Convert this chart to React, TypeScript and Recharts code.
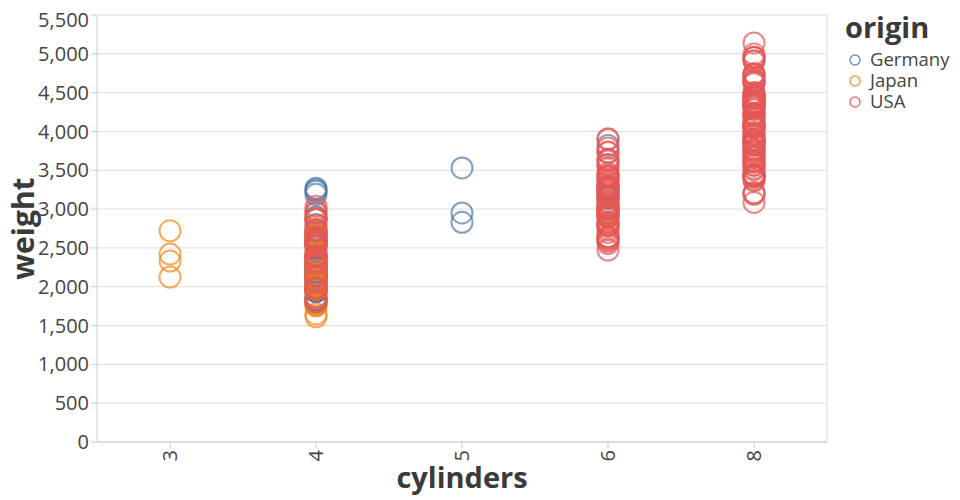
import React from "react";
import {
  ScatterChart,
  Scatter,
  XAxis,
  YAxis,
  CartesianGrid,
  ReferenceLine,
} from "recharts";

const categories = ["3", "4", "5", "6", "8"];
const origins = ["Germany", "Japan", "USA"];
const colors = ["#4c78a8", "#f58518", "#e45756"];
const yTicks = [0, 500, 1000, 1500, 2000, 2500, 3000, 3500, 4000, 4500, 5000, 5500];

// weights by origin and cylinder count
const germany4 = [1835, 2672, 2430, 2375, 2234, 1834, 1825, 2123, 1867, 2158, 2582, 2868, 1950, 2219, 2545, 3250, 1945, 2246, 1990, 2110, 2700, 2800, 2511, 1937, 2050, 2190, 2223, 2075, 1825, 2130, 1985, 3190, 3230, 2670, 1940, 2330, 2144, 2900, 3270, 2190];
const germany5 = [2830, 3530, 2950];
const germany6 = [3820, 3160, 3140, 3020];
const japan3 = [2330, 2124, 2720, 2420];
const japan4 = [2372, 2130, 1773, 1613, 1834, 2065, 1950, 2279, 1649, 2003, 2155, 1795, 2464, 2220, 1755, 2100, 2065, 1940, 2130, 2745, 2215, 2300, 1760, 2605, 1800, 2070, 2110, 1985, 2665, 1968, 2019, 2678, 2870, 2003, 2434, 2160, 2290, 2545, 2585, 1975, 2020, 1850, 1965, 1995, 2045, 2155, 2210, 2350, 2615, 2720];
const japan6 = [2807, 2815, 2910, 2930, 2990];
const usa4 = [2130, 2375, 2226, 2408, 2254, 2164, 1955, 2310, 2126, 2264, 2228, 2046, 2279, 2401, 2592, 2565, 2391, 2000, 2572, 1875, 1995, 2200, 2300, 2135, 2155, 2565, 2990, 2890, 2670, 2720, 2265, 2045, 2125, 1985, 2385, 2585, 2155, 2605, 2640, 2395, 2575, 2525, 2735, 2865, 3035, 1845, 2380, 2490, 2635, 2620, 2585, 2720, 2295, 2625, 2950, 2790, 2130, 2065, 1800, 1968, 1990, 2335, 2950, 2870, 2540];
const usa6 = [2648, 2774, 3329, 3302, 3288, 2587, 2634, 3439, 3282, 3139, 2930, 3021, 3264, 3158, 2789, 2472, 3278, 2945, 3270, 3102, 3645, 3193, 3897, 3907, 3632, 3233, 3353, 3012, 3085, 2984, 3574, 3730, 3785, 3525, 3465, 3380, 3425, 2965, 3570, 3620, 3150, 2945, 3245, 3193, 2835, 2795, 3060, 2595, 2700, 2556, 2620, 3035, 3015, 2910, 3265, 3735, 2890, 3003, 3230, 3410, 3415, 2740, 2640, 2900];
const usa8 = [3504, 3693, 3436, 3433, 3449, 4341, 4354, 4312, 4425, 3850, 3563, 3609, 3761, 3086, 4615, 4376, 4382, 4732, 4955, 4746, 5140, 4735, 4951, 4464, 4498, 4657, 4633, 4997, 4906, 4456, 4422, 3892, 4098, 4294, 4077, 4100, 3672, 3988, 4042, 3777, 4952, 4363, 4237, 4735, 4699, 4457, 4638, 4906, 3664, 4129, 4082, 4278, 4668, 4440, 4055, 3821, 3940, 4215, 4190, 3962, 4215, 4385, 4380, 4499, 3755, 3880, 4220, 4165, 4325, 4335, 3735, 3570, 3525, 3605, 3840, 3955, 3830, 4360, 4054, 3420, 3725, 3900, 3410, 3425, 3445, 3205, 4060, 3365, 3380, 3210, 3620, 3190, 4080, 3840, 3870, 3900];

type Pt = { x: number; weight: number };
const toPts = (cyl: string, ws: number[]): Pt[] =>
  ws.map((w) => ({ x: categories.indexOf(cyl), weight: w }));

const groups: { origin: number; pts: Pt[] }[] = [];
const byOrigin: [number, string, number[]][] = [
  [0, "4", germany4], [0, "5", germany5], [0, "6", germany6],
  [1, "3", japan3], [1, "4", japan4], [1, "6", japan6],
  [2, "4", usa4], [2, "6", usa6], [2, "8", usa8],
];
// interleave halves to mimic data-order drawing
for (let half = 0; half < 2; half++) {
  for (let o = 0; o < 3; o++) {
    const pts: Pt[] = [];
    byOrigin
      .filter((g) => g[0] === o)
      .forEach(([, cyl, ws]) => {
        const mid = Math.ceil(ws.length / 2);
        const part = half === 0 ? ws.slice(0, mid) : ws.slice(mid);
        pts.push(...toPts(cyl, part));
      });
    groups.push({ origin: o, pts });
  }
}

const FONT = "'Open Sans', sans-serif";
const TEXT = "#3a3a3a";
const TICK = "#444";

const makeShape = (color: string) => (props: any) => (
  <circle
    cx={props.cx}
    cy={props.cy}
    r={10.5}
    fill="none"
    stroke={color}
    strokeWidth={2}
    strokeOpacity={0.7}
  />
);

const XTick = (props: any) => {
  const { x, y, payload } = props;
  return (
    <g transform={`translate(${x},${y})`}>
      <text
        transform="rotate(-90)"
        textAnchor="end"
        dy="0.35em"
        fontSize={20}
        fontFamily={FONT}
        fill={TICK}
      >
        {categories[payload.value]}
      </text>
    </g>
  );
};

const LegendBox = () => (
  <svg width={130} height={110} style={{ position: "absolute", left: 822, top: 0 }}>
    <text x={15} y={30} fontSize={29} fontWeight="bold" fontFamily={FONT} fill={TEXT}>
      origin
    </text>
    {origins.map((o, i) => (
      <g key={o}>
        <circle cx={25} cy={52 + i * 21} r={5} fill="none" stroke={colors[i]} strokeWidth={1.5} strokeOpacity={0.8} />
        <text x={40} y={52 + i * 21} dy="0.35em" fontSize={18.5} fontFamily={FONT} fill={TICK}>
          {o}
        </text>
      </g>
    ))}
  </svg>
);

export default function App() {
  return (
    <div style={{ position: "relative", width: 952, height: 492 }}>
      <ScatterChart
        width={952}
        height={492}
        margin={{ top: 7, right: 133, bottom: 0, left: 0 }}
        style={{ fontFamily: FONT }}
      >
        <CartesianGrid stroke="#ddd" vertical={false} />
        <XAxis
          type="number"
          dataKey="x"
          domain={[-0.5, 4.5]}
          ticks={[0, 1, 2, 3, 4]}
          height={58}
          tickSize={6}
          tickMargin={2}
          tick={<XTick />}
          axisLine={{ stroke: "#ccc" }}
          tickLine={{ stroke: "#ccc" }}
          allowDataOverflow
          label={{
            content: (p: any) => {
              const vb = p.viewBox;
              return (
                <text
                  x={vb.x + vb.width / 2}
                  y={vb.y + 46}
                  textAnchor="middle"
                  fontSize={29}
                  fontWeight="bold"
                  fontFamily={FONT}
                  fill={TEXT}
                >
                  cylinders
                </text>
              );
            },
          }}
        />
        <YAxis
          type="number"
          dataKey="weight"
          domain={[0, 5500]}
          ticks={yTicks}
          width={89}
          tickSize={6}
          tickMargin={2}
          tick={{ fontSize: 20, fill: TICK, fontFamily: FONT }}
          tickFormatter={(v: number) => v.toLocaleString("en-US")}
          axisLine={{ stroke: "#ccc" }}
          tickLine={{ stroke: "#ccc" }}
          label={{
            content: (p: any) => {
              const vb = p.viewBox;
              const cx = vb.x + 15;
              const cy = vb.y + vb.height / 2;
              return (
                <text
                  x={cx}
                  y={cy}
                  transform={`rotate(-90 ${cx} ${cy})`}
                  textAnchor="middle"
                  dy="0.35em"
                  fontSize={30}
                  fontWeight="bold"
                  fontFamily={FONT}
                  fill={TEXT}
                >
                  weight
                </text>
              );
            },
          }}
        />
        <ReferenceLine x={4.5} stroke="#ddd" />
        {groups.map((g, i) => (
          <Scatter
            key={i}
            name={origins[g.origin]}
            data={g.pts}
            shape={makeShape(colors[g.origin])}
            isAnimationActive={false}
            legendType="none"
          />
        ))}
      </ScatterChart>
      <LegendBox />
    </div>
  );
}
